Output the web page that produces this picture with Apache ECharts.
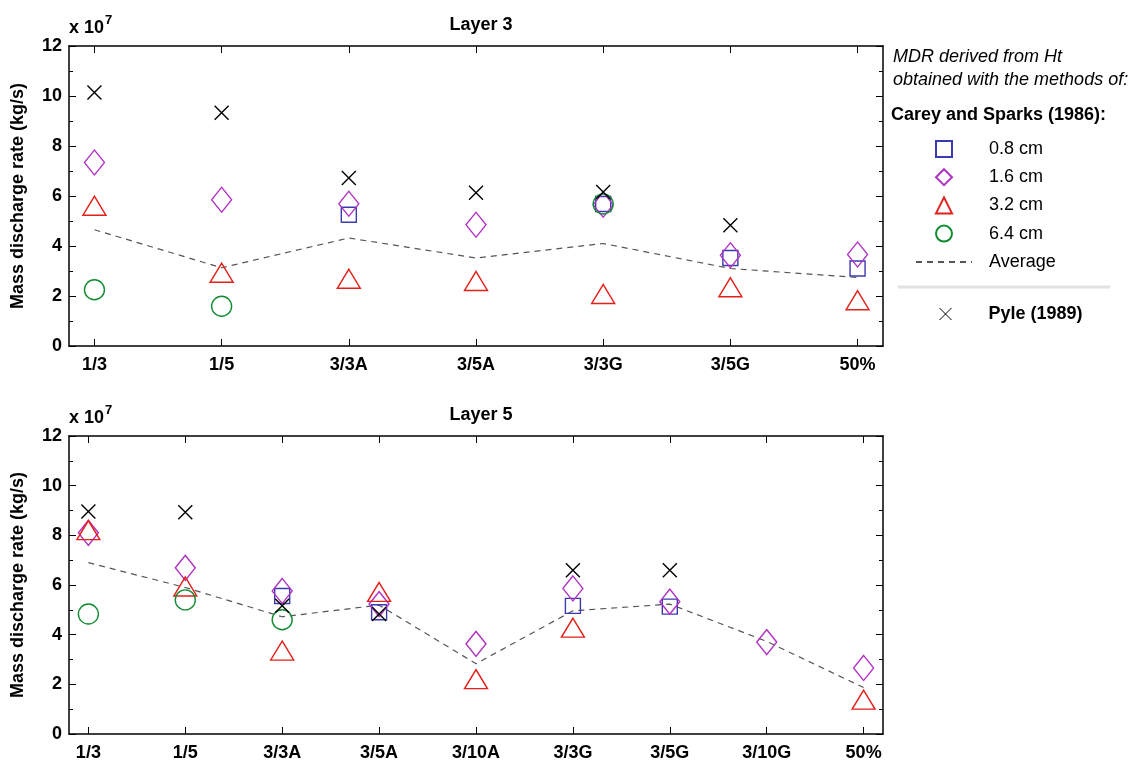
<!DOCTYPE html>
<html>
<head>
<meta charset="utf-8">
<title>Mass discharge rate</title>
<script src="https://cdn.jsdelivr.net/npm/echarts@6/dist/echarts.min.js"></script>
<style>
  html, body { margin: 0; padding: 0; background: #fff; }
  #chart { width: 1148px; height: 762px; }
</style>
</head>
<body>
<div id="chart"></div>
<script>
// Layer 3 (values in 1e7 kg/s)
var catsL3 = ["1/3", "1/5", "3/3A", "3/5A", "3/3G", "3/5G", "50%"];
var l3_08 = [null, null, 5.25, null, 5.68, 3.52, 3.10];
var l3_16 = [7.34, 5.85, 5.69, 4.85, 5.65, 3.63, 3.66];
var l3_32 = [5.61, 2.93, 2.69, 2.60, 2.08, 2.35, 1.83];
var l3_64 = [2.25, 1.59, null, null, 5.68, null, null];
var l3_avg = [4.65, 3.13, 4.32, 3.52, 4.10, 3.10, 2.74];
var l3_pyle = [10.14, 9.33, 6.72, 6.13, 6.16, 4.83, null];

// Layer 5
var catsL5 = ["1/3", "1/5", "3/3A", "3/5A", "3/10A", "3/3G", "3/5G", "3/10G", "50%"];
var l5_08 = [null, null, 5.56, 4.90, null, 5.16, 5.13, null, null];
var l5_16 = [8.10, 6.69, 5.76, 5.23, 3.63, 5.86, 5.33, 3.70, 2.66];
var l5_32 = [8.21, 5.94, 3.36, 5.72, 2.21, 4.28, null, null, 1.38];
var l5_64 = [4.83, 5.40, 4.60, null, null, null, null, null, null];
var l5_avg = [6.90, 5.90, 4.72, 5.19, 2.83, 4.96, 5.23, 3.73, 1.87];
var l5_pyle = [8.96, 8.93, 5.16, 4.83, null, 6.59, 6.59, null, null];

var yTicks = [0, 2, 4, 6, 8, 10, 12];

var font = "Liberation Sans, Arial, Helvetica, sans-serif";
var colBlue = "#3b3bb0";
var colMag = "#b032c2";
var colRed = "#e3211a";
var colGreen = "#128c33";
var crossPath = "path://M0,0L10,10M10,0L0,10";

function pts(arr) {
  var out = [];
  arr.forEach(function (v, i) { if (v != null) out.push([i, v]); });
  return out;
}

function idx(n) {
  var a = [];
  for (var i = 0; i < n; i++) a.push(i);
  return a;
}

var chart = echarts.init(document.getElementById("chart"));

var grids = [
  { left: 69, top: 46, width: 814, height: 300 },
  { left: 69, top: 436, width: 814, height: 300 }
];

function xAxes(gi, cats) {
  var ticks = idx(cats.length);
  var base = {
    type: "value",
    gridIndex: gi,
    min: -0.2,
    max: cats.length - 1 + 0.2,
    splitLine: { show: false },
    axisLine: { show: true, onZero: false, lineStyle: { color: "#000", width: 1.5 } }
  };
  return [
    Object.assign({}, base, {
      position: "bottom",
      axisTick: { inside: true, length: 7, customValues: ticks, lineStyle: { color: "#000" } },
      axisLabel: {
        customValues: ticks,
        margin: 10,
        color: "#000",
        fontFamily: font,
        fontWeight: "bold",
        fontSize: 18,
        formatter: function (v) { return cats[Math.round(v)]; }
      }
    }),
    Object.assign({}, base, {
      position: "top",
      axisTick: { inside: true, length: 7, customValues: ticks, lineStyle: { color: "#000" } },
      axisLabel: { show: false }
    })
  ];
}

function yAxes(gi) {
  var base = {
    type: "value",
    gridIndex: gi,
    min: 0,
    max: 12,
    interval: 2,
    splitLine: { show: false },
    axisLine: { show: true, onZero: false, lineStyle: { color: "#000", width: 1.5 } },
    axisTick: { inside: true, length: 7, lineStyle: { color: "#000" } },
    minorTick: { show: true, splitNumber: 2, length: 4, lineStyle: { color: "#000" } }
  };
  return [
    Object.assign({}, base, {
      position: "left",
      name: "Mass discharge rate (kg/s)",
      nameLocation: "middle",
      nameRotate: 90,
      nameGap: 42,
      nameTextStyle: { color: "#000", fontFamily: font, fontWeight: "bold", fontSize: 18 },
      axisLabel: {
        margin: 7,
        color: "#000",
        fontFamily: font,
        fontWeight: "bold",
        fontSize: 18,
        customValues: yTicks
      }
    }),
    Object.assign({}, base, { position: "right", axisLabel: { show: false } })
  ];
}

function hollow(color) {
  return { color: "rgba(0,0,0,0)", borderColor: color, borderWidth: 1.4, opacity: 1 };
}

function layerSeries(gi, s08, s16, s32, s64, avg, pyle) {
  var xi = gi * 2, yi = gi * 2;
  return [
    { name: "Average", type: "line", xAxisIndex: xi, yAxisIndex: yi, data: pts(avg),
      symbol: "none", z: 1,
      lineStyle: { color: "#555", width: 1.2, type: [6, 5] } },
    { name: "0.8 cm", type: "scatter", xAxisIndex: xi, yAxisIndex: yi, data: pts(s08),
      symbol: "rect", symbolSize: 15, itemStyle: hollow(colBlue) },
    { name: "1.6 cm", type: "scatter", xAxisIndex: xi, yAxisIndex: yi, data: pts(s16),
      symbol: "diamond", symbolSize: [20, 25], itemStyle: hollow(colMag) },
    { name: "3.2 cm", type: "scatter", xAxisIndex: xi, yAxisIndex: yi, data: pts(s32),
      symbol: "triangle", symbolSize: [23, 19], itemStyle: hollow(colRed) },
    { name: "6.4 cm", type: "scatter", xAxisIndex: xi, yAxisIndex: yi, data: pts(s64),
      symbol: "circle", symbolSize: 20, itemStyle: hollow(colGreen) },
    { name: "Pyle (1989)", type: "scatter", xAxisIndex: xi, yAxisIndex: yi, data: pts(pyle),
      symbol: crossPath, symbolSize: 14, itemStyle: hollow("#000") }
  ];
}

var titleText = { color: "#000", fontFamily: font, fontWeight: "bold", fontSize: 18 };
var expRich = {
  a: { fontFamily: font, fontWeight: "bold", fontSize: 18, color: "#000" },
  b: { fontFamily: font, fontSize: 13, color: "#000", verticalAlign: "top", padding: [0, 0, 16, 1] }
};
var legendText = { color: "#000", fontFamily: font, fontSize: 18, lineHeight: 18 };

var option = {
  animation: false,
  backgroundColor: "#fff",
  grid: grids,
  title: [
    { text: "Layer 3", left: 476, top: 11, textAlign: "center", textStyle: titleText },
    { text: "Layer 5", left: 476, top: 401, textAlign: "center", textStyle: titleText },
    { text: "{a|x 10}{b|7}", left: 64, top: 9, textStyle: { rich: expRich } },
    { text: "{a|x 10}{b|7}", left: 64, top: 399, textStyle: { rich: expRich } }
  ],
  legend: [
    {
      data: ["0.8 cm", "1.6 cm", "3.2 cm", "6.4 cm"],
      orient: "vertical",
      left: 930,
      top: 135,
      itemWidth: 16,
      itemHeight: 16,
      itemGap: 10.2,
      selectedMode: false,
      textStyle: Object.assign({ padding: [0, 0, 0, 32] }, legendText)
    },
    {
      data: ["Average"],
      orient: "vertical",
      left: 910,
      top: 248,
      itemWidth: 56,
      itemHeight: 16,
      selectedMode: false,
      itemStyle: { opacity: 0 },
      textStyle: Object.assign({ padding: [0, 0, 0, 12] }, legendText)
    },
    {
      data: ["Pyle (1989)"],
      orient: "vertical",
      left: 934,
      top: 300,
      itemWidth: 12,
      itemHeight: 12,
      selectedMode: false,
      itemStyle: { borderWidth: 1 },
      textStyle: Object.assign({ padding: [0, 0, 0, 32], fontWeight: "bold" }, legendText)
    }
  ],
  graphic: [
    { type: "text", left: 893, top: 48,
      style: { text: "MDR derived from Ht", fill: "#000", font: "italic 18px " + font } },
    { type: "text", left: 893, top: 71,
      style: { text: "obtained with the methods of:", fill: "#000", font: "italic 18px " + font } },
    { type: "text", left: 891, top: 106,
      style: { text: "Carey and Sparks (1986):", fill: "#000", font: "bold 18px " + font } },
    { type: "line", shape: { x1: 898, y1: 287, x2: 1110, y2: 287 },
      style: { stroke: "#e2e2e2", lineWidth: 3 } }
  ],
  xAxis: xAxes(0, catsL3).concat(xAxes(1, catsL5)),
  yAxis: yAxes(0).concat(yAxes(1)),
  series: layerSeries(0, l3_08, l3_16, l3_32, l3_64, l3_avg, l3_pyle)
    .concat(layerSeries(1, l5_08, l5_16, l5_32, l5_64, l5_avg, l5_pyle))
};

chart.setOption(option);
</script>
</body>
</html>
